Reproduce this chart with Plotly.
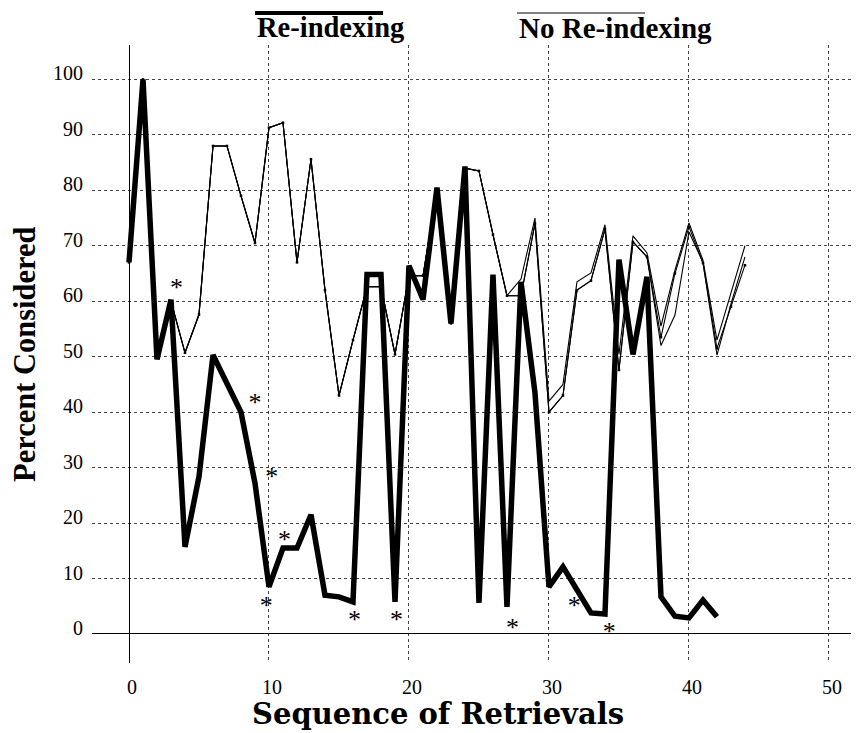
import plotly.graph_objects as go

# sequence of retrievals
x_reindex = list(range(0, 43))
x_noreindex = list(range(0, 45))

# percent considered, with re-indexing (thick line)
reindexing = [67, 100, 49.5, 60.3, 15.7, 28.4, 50.3, 45, 40, 27.2,
              8.5, 15.5, 15.5, 21.5, 7, 6.7, 5.8, 64.8, 64.8, 5.8,
              66.4, 60.3, 80.5, 56, 84.3, 5.6, 64.8, 4.9, 63.5, 43.5,
              8.5, 12.1, 8, 3.8, 3.6, 67.5, 50.4, 64.4, 6.7, 3.2,
              2.9, 6.1, 3.1]

# percent considered, no re-indexing (three thin runs)
no_reindex_a = [67, 100, 50, 60, 50.7, 57.6, 88, 88, 79, 70.5,
                91.3, 92.2, 67, 85.6, 62, 43, 53, 62.6, 62.6, 50.4,
                64.6, 64.6, 80, 56, 84, 83.5, 72, 61, 64, 75,
                42, 45, 63.5, 65.1, 73.8, 50.4, 71.8, 68.7, 55.5, 65.6,
                74.1, 67.4, 53, 61.5, 70]
no_reindex_b = [67, 100, 50, 60, 50.7, 57.6, 88, 88, 79, 70.5,
                91.3, 92.2, 67, 85.6, 62, 43, 53, 62.6, 62.6, 50.4,
                64.6, 64.6, 80, 56, 84, 83.5, 72, 61, 61, 74,
                40, 43, 62, 63.7, 73, 47.6, 70.7, 68, 53.5, 65,
                73.4, 66.9, 51.5, 59, 66.5]
no_reindex_c = [67, 100, 50, 60, 50.7, 57.6, 88, 88, 79, 70.5,
                91.3, 92.2, 67, 85.6, 62, 43, 53, 62.6, 62.6, 50.4,
                64.6, 64.6, 80, 56, 84, 83.5, 72, 61, 61, 74,
                40, 43, 62, 63.7, 73, 47.6, 70.7, 68, 52, 57.5,
                72.5, 67, 50.3, 59.5, 68]

# asterisk notes (text anchor positions)
star_x = [3.4, 9.0, 10.2, 11.1, 9.8, 16.1, 19.1, 27.4, 31.8, 34.3]
star_y = [62.2, 41.3, 28.0, 16.6, 4.7, 2.3, 2.3, 0.9, 4.7, 0.0]

x_ticks = [0, 10, 20, 30, 40, 50]
y_ticks = [0, 10, 20, 30, 40, 50, 60, 70, 80, 90, 100]

SERIF = "Liberation Serif, Times New Roman, serif"
WIDE_SERIF = "DejaVu Serif, serif"

fig = go.Figure()

for ys in (no_reindex_c, no_reindex_a):
    fig.add_trace(go.Scatter(x=x_noreindex, y=ys, mode='lines',
                             line=dict(color='black', width=1.1), showlegend=False))
fig.add_trace(go.Scatter(x=x_noreindex, y=no_reindex_b, mode='lines+markers',
                         line=dict(color='black', width=1.1),
                         marker=dict(symbol='square', size=2.5, color='black'),
                         showlegend=False))

fig.add_trace(go.Scatter(x=x_reindex, y=reindexing, mode='lines',
                         line=dict(color='black', width=5.5), showlegend=False))

fig.add_trace(go.Scatter(x=star_x, y=star_y, mode='text', text=['*'] * len(star_x),
                         textposition='middle center',
                         textfont=dict(family=SERIF, size=26, color='black'),
                         showlegend=False))

# legend labels drawn as overlined titles (paper coords relative to plot area 92..855 x 45..663)
fig.add_annotation(text="<b>Re-indexing</b>", x=(255 - 92) / 763, y=(663 - 28) / 618,
                   xref='paper', yref='paper', xanchor='left', yanchor='middle',
                   showarrow=False, font=dict(family=SERIF, size=28.5, color='black'))
fig.add_annotation(text="<b>No Re-indexing</b>", x=(517 - 92) / 763, y=(663 - 28) / 618,
                   xref='paper', yref='paper', xanchor='left', yanchor='middle',
                   showarrow=False, font=dict(family=SERIF, size=29, color='black'))
fig.add_shape(type='line', xref='paper', yref='paper',
              x0=(255 - 92) / 763, x1=(383 - 92) / 763, y0=(663 - 13) / 618, y1=(663 - 13) / 618,
              line=dict(color='black', width=4))
fig.add_shape(type='line', xref='paper', yref='paper',
              x0=(517 - 92) / 763, x1=(645 - 92) / 763, y0=(663 - 13) / 618, y1=(663 - 13) / 618,
              line=dict(color='black', width=1))

fig.add_annotation(text="<b>Sequence of Retrievals</b>", x=(438 - 92) / 763, y=(663 - 714) / 618,
                   xref='paper', yref='paper', xanchor='center', yanchor='middle',
                   showarrow=False, font=dict(family=WIDE_SERIF, size=29, color='black'))
fig.add_annotation(text="<b>Percent Considered</b>", x=(25 - 92) / 763, y=0.5,
                   xref='paper', yref='paper', xanchor='center', yanchor='middle',
                   textangle=-90, showarrow=False,
                   font=dict(family=SERIF, size=30.5, color='black'))

# the page body adds an 8px margin, so the figure is 8px smaller than the window
fig.update_layout(
    width=851,
    height=725,
    margin=dict(l=84, r=4, t=37, b=70),
    plot_bgcolor='white',
    paper_bgcolor='white',
    font=dict(family=SERIF, size=20, color='black'),
    xaxis=dict(range=[-2.643, 51.86], tickvals=x_ticks, showgrid=True,
               gridcolor='#444', griddash='dot', gridwidth=1,
               zeroline=True, zerolinecolor='black', zerolinewidth=1.2,
               showline=False, ticks='', ticklabelstandoff=10, ticklabelshift=3),
    yaxis=dict(range=[-5.23, 106.2], tickvals=y_ticks, showgrid=True,
               gridcolor='#444', griddash='dot', gridwidth=1,
               zeroline=True, zerolinecolor='black', zerolinewidth=1.2,
               showline=False, ticks='', ticklabelstandoff=8, ticklabelshift=-6),
)

fig.write_html("out.html")
